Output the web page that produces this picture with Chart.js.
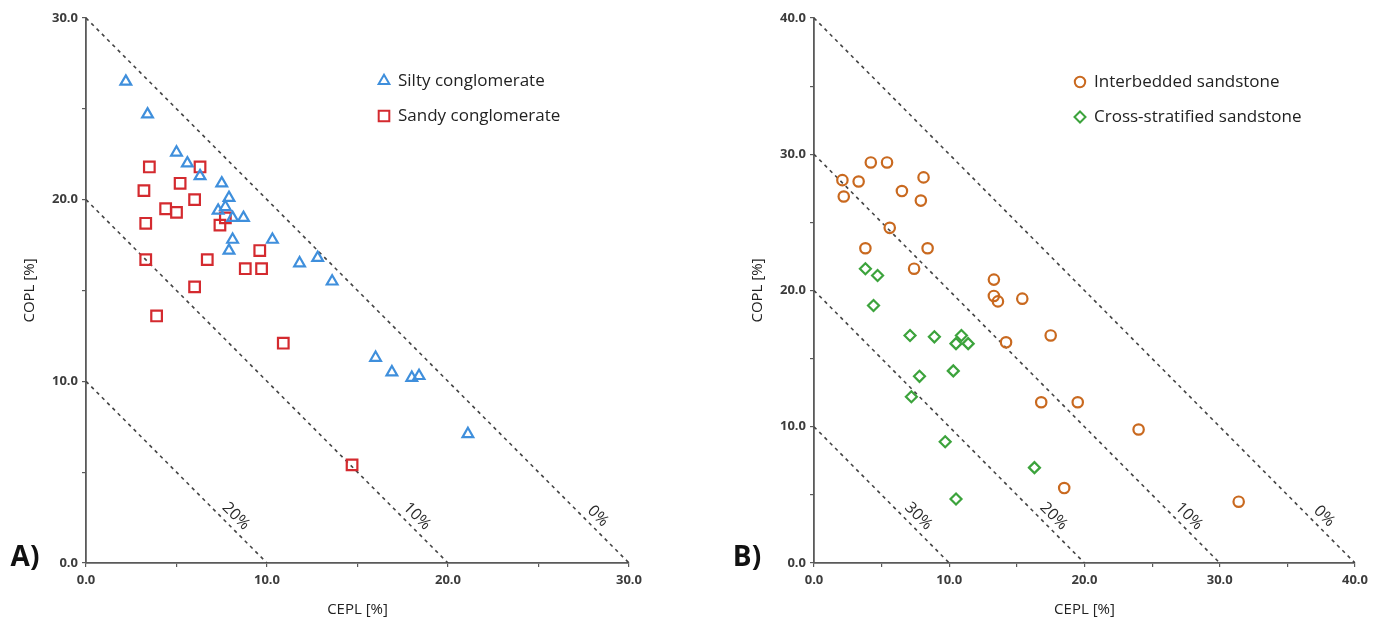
<!DOCTYPE html>
<html>
<head>
<meta charset="utf-8">
<title>CEPL vs COPL</title>
<script src="https://cdn.jsdelivr.net/npm/chart.js@4.4.1/dist/chart.umd.min.js"></script>
<style>
  html, body { margin: 0; padding: 0; background: #fff; }
  #wrap { position: relative; width: 1373px; height: 621px; }
  canvas { position: absolute; top: 0; }
  #chartA { left: 0; }
  #chartB { left: 686px; }
</style>
</head>
<body>
<div id="wrap">
  <canvas id="chartA" width="686" height="621"></canvas>
  <canvas id="chartB" width="687" height="621"></canvas>
</div>
<script>
// Panel A: conglomerates
const siltyCEPL = [2.2, 3.4, 5.0, 5.6, 6.3, 7.5, 7.9, 7.3, 7.7, 8.1, 8.7, 8.1, 7.9, 10.3, 11.8, 12.8, 13.6, 16.0, 16.9, 18.0, 18.4, 21.1];
const siltyCOPL = [26.5, 24.7, 22.6, 22.0, 21.3, 20.9, 20.1, 19.4, 19.6, 19.0, 19.0, 17.8, 17.2, 17.8, 16.5, 16.8, 15.5, 11.3, 10.5, 10.2, 10.3, 7.1];
const sandyCEPL = [3.5, 6.3, 5.2, 3.2, 6.0, 4.4, 5.0, 7.7, 7.4, 3.3, 9.6, 3.3, 6.7, 8.8, 9.7, 6.0, 3.9, 10.9, 14.7];
const sandyCOPL = [21.8, 21.8, 20.9, 20.5, 20.0, 19.5, 19.3, 19.0, 18.6, 18.7, 17.2, 16.7, 16.7, 16.2, 16.2, 15.2, 13.6, 12.1, 5.4];

// Panel B: sandstones
const interCEPL = [2.1, 2.2, 3.3, 4.2, 5.4, 6.5, 8.1, 7.9, 5.6, 3.8, 8.4, 7.4, 13.3, 13.3, 13.6, 15.4, 14.2, 17.5, 16.8, 19.5, 24.0, 18.5, 31.4];
const interCOPL = [28.1, 26.9, 28.0, 29.4, 29.4, 27.3, 28.3, 26.6, 24.6, 23.1, 23.1, 21.6, 20.8, 19.6, 19.2, 19.4, 16.2, 16.7, 11.8, 11.8, 9.8, 5.5, 4.5];
const crossCEPL = [3.8, 4.7, 4.4, 7.1, 8.9, 10.9, 10.5, 11.4, 10.3, 7.8, 7.2, 9.7, 16.3, 10.5];
const crossCOPL = [21.6, 21.1, 18.9, 16.7, 16.6, 16.7, 16.1, 16.1, 14.1, 13.7, 12.2, 8.9, 7.0, 4.7];

// Lines of equal intergranular volume (CEPL + COPL = const) and their labels
const isoA = [30, 20, 10];
const isoLabelsA = ['0%', '10%', '20%'];
const isoB = [40, 30, 20, 10];
const isoLabelsB = ['0%', '10%', '20%', '30%'];

const axisMaxA = 30;
const axisMaxB = 40;

const FONT = "'Open Sans', 'Noto Sans', sans-serif";
const AXIS = '#5a5a5a';

const zip = (xs, ys) => xs.map((x, i) => ({ x: x, y: ys[i] }));

function isoDatasets(values) {
    return values.map(c => ({
        label: 'iso' + c,
        isIso: true,
        data: [{ x: 0, y: c }, { x: c, y: 0 }],
        showLine: true,
        borderColor: '#444',
        borderWidth: 1.6,
        borderDash: [3.5, 4],
        pointRadius: 0,
        pointHoverRadius: 0,
        fill: false
    }));
}

function markerSet(label, xs, ys, color, style, radius) {
    return {
        label: label,
        data: zip(xs, ys),
        pointStyle: style,
        pointRadius: radius,
        pointHoverRadius: radius,
        pointBorderColor: color,
        pointBackgroundColor: 'rgba(0,0,0,0)',
        pointBorderWidth: 2.2,
        borderColor: color,
        backgroundColor: 'rgba(0,0,0,0)',
        showLine: false
    };
}

// Rotated percentage labels beside the dashed lines, legend and panel letter
function decorPlugin(cfg) {
    return {
        id: 'decor',
        afterDatasetsDraw(chart) {
            const { ctx, chartArea, scales } = chart;
            const xs = scales.x, ys = scales.y;
            ctx.save();

            // labels along the iso lines
            ctx.font = '16px ' + FONT;
            ctx.fillStyle = '#2a2a2a';
            ctx.textAlign = 'center';
            ctx.textBaseline = 'middle';
            cfg.iso.forEach((c, i) => {
                const x0 = xs.getPixelForValue(0), y0 = ys.getPixelForValue(c);
                const x1 = xs.getPixelForValue(c), y1 = ys.getPixelForValue(0);
                const ang = Math.atan2(y1 - y0, x1 - x0);
                const py = chartArea.bottom - 39;
                const t = (py - y0) / (y1 - y0);
                const px = x0 + t * (x1 - x0);
                const off = 11;
                ctx.save();
                ctx.translate(px + Math.sin(ang) * off, py - Math.cos(ang) * off);
                ctx.rotate(ang);
                ctx.fillText(cfg.isoLabels[i], 0, 0);
                ctx.restore();
            });

            // legend
            const lx = chartArea.left + cfg.legendX;
            let ly = chartArea.top + cfg.legendY;
            ctx.textAlign = 'left';
            ctx.font = '17px ' + FONT;
            chart.data.datasets.filter(d => !d.isIso).forEach(d => {
                ctx.strokeStyle = d.pointBorderColor;
                ctx.fillStyle = 'rgba(0,0,0,0)';
                ctx.lineWidth = 2;
                Chart.helpers.drawPoint(ctx, {
                    pointStyle: d.pointStyle,
                    radius: d.pointRadius,
                    rotation: 0,
                    borderWidth: 2
                }, lx, ly);
                ctx.fillStyle = '#222';
                ctx.fillText(d.label, lx + 14, ly);
                ly += 35;
            });

            // panel letter
            ctx.font = 'bold 28px ' + FONT;
            ctx.fillStyle = '#111';
            ctx.textAlign = 'center';
            ctx.fillText(cfg.letter, chartArea.left + cfg.letterDX, chartArea.bottom - 5);
            ctx.restore();
        }
    };
}

function axisOptions(max, isX, titlePad, fitSize) {
    return {
        type: 'linear',
        min: 0,
        max: max,
        border: { display: true, color: AXIS, width: 1.8 },
        grid: {
            display: true,
            drawOnChartArea: false,
            drawTicks: true,
            tickLength: 4,
            color: AXIS,
            lineWidth: 1.2
        },
        ticks: {
            stepSize: 5,
            autoSkip: false,
            maxRotation: 0,
            padding: isX ? 5 : 4,
            color: '#3c3c3c',
            font: { family: FONT, size: 13, weight: 'bold' },
            callback: v => (v % 10 === 0 ? v.toFixed(1) : '')
        },
        title: {
            display: true,
            text: isX ? 'CEPL [%]' : 'COPL [%]',
            color: '#222',
            font: { family: FONT, size: 15 },
            padding: titlePad
        },
        afterFit: s => {
            if (isX) s.height = fitSize; else s.width = fitSize;
        }
    };
}

function buildChart(id, datasets, max, pad, yFit, yTitlePad, decor) {
    return new Chart(document.getElementById(id), {
        type: 'scatter',
        data: { datasets: datasets },
        options: {
            responsive: false,
            animation: false,
            layout: { padding: pad },
            plugins: {
                legend: { display: false },
                tooltip: { enabled: false }
            },
            scales: {
                x: axisOptions(max, true, { top: 0, bottom: 2 }, 58),
                y: axisOptions(max, false, { top: yTitlePad, bottom: 0 }, yFit)
            }
        },
        plugins: [decorPlugin(decor)]
    });
}

buildChart('chartA', [
    markerSet('Silty conglomerate', siltyCEPL, siltyCOPL, '#3f8fdc', 'triangle', 6.2),
    markerSet('Sandy conglomerate', sandyCEPL, sandyCOPL, '#d42a2f', 'rect', 7.5)
].concat(isoDatasets(isoA)), axisMaxA,
    { top: 18, right: 57, bottom: 0, left: 0 }, 86, 21,
    { iso: isoA, isoLabels: isoLabelsA, legendX: 298, legendY: 63, letter: 'A)', letterDX: -61 });

buildChart('chartB', [
    markerSet('Interbedded sandstone', interCEPL, interCOPL, '#c9691f', 'circle', 5.2),
    markerSet('Cross-stratified sandstone', crossCEPL, crossCOPL, '#3ca33c', 'rectRot', 5.5)
].concat(isoDatasets(isoB)), axisMaxB,
    { top: 18, right: 16, bottom: 0, left: 0 }, 128, 63,
    { iso: isoB, isoLabels: isoLabelsB, legendX: 266, legendY: 64, letter: 'B)', letterDX: -67 });
</script>
</body>
</html>
